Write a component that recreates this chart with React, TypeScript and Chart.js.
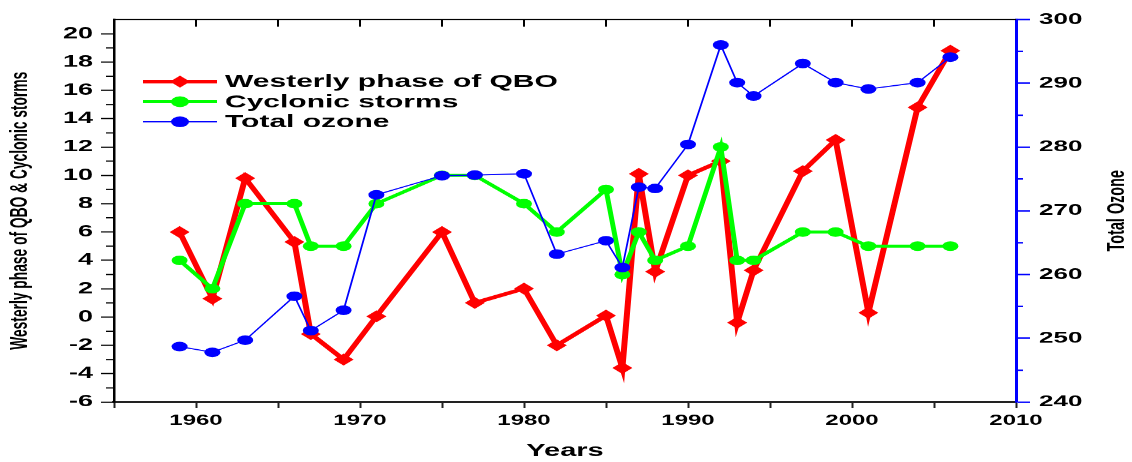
import React, { useEffect, useRef } from 'react';
import { Chart, registerables } from 'chart.js';

Chart.register(...registerables);

// ---- data ----
const YEARS = [1959, 1961, 1963, 1966, 1967, 1969, 1971, 1975, 1977, 1980, 1982, 1985, 1986, 1987, 1988, 1990, 1992, 1993, 1994, 1997, 1999, 2001, 2004, 2006];
const QBO = [6, 1.3, 9.8, 5.3, -1.2, -3, 0.05, 6, 1, 2, -2, 0.1, -3.6, 10.1, 3.2, 10, 11, -0.4, 3.3, 10.3, 12.5, 0.3, 14.8, 18.8];
const CYCLONES = [4, 2, 8, 8, 5, 5, 8, 10, 10, 8, 6, 9, 3, 6, 4, 5, 12, 4, 4, 6, 6, 5, 5, 5];
const OZONE = [248.7, 247.8, 249.7, 256.6, 251.2, 254.4, 272.5, 275.5, 275.6, 275.8, 263.2, 265.3, 261.1, 273.7, 273.5, 280.4, 296.0, 290.1, 288.0, 293.1, 290.1, 289.1, 290.1, 294.1];

const X_TICKS = [1955, 1960, 1965, 1970, 1975, 1980, 1985, 1990, 1995, 2000, 2005, 2010];
const LEFT_TICKS = [-6, -4, -2, 0, 2, 4, 6, 8, 10, 12, 14, 16, 18, 20];
const LEFT_MINOR = [-5, -3, -1, 1, 3, 5, 7, 9, 11, 13, 15, 17, 19];
const RIGHT_TICKS = [240, 250, 260, 270, 280, 290, 300];
const RIGHT_MINOR = [245, 255, 265, 275, 285, 295];

const LEGEND_LABELS = ['Westerly phase of QBO', 'Cyclonic storms', 'Total ozone'];
const X_TITLE = 'Years';
const LEFT_TITLE = 'Westerly phase of QBO & Cyclonic storms';
const RIGHT_TITLE = 'Total Ozone';

const RED = '#ff0000';
const GREEN = '#00ff00';
const BLUE = '#0000ff';
const FONT = "'Liberation Sans', Arial, Helvetica, sans-serif";

// The reference is vertically squashed; the chart is drawn taller and squeezed.
const W = 1132;
const S = 0.6;
const H = Math.round(462 / S);

const pts = (vals: number[]) => YEARS.map((x, i) => ({ x, y: vals[i] }));

const decor = {
  id: 'decor',
  afterDraw(chart: any) {
    const { ctx, chartArea: ca, scales } = chart;
    const x = scales.x, y = scales.y, y1 = scales.y1;
    ctx.save();
    // top frame line
    ctx.strokeStyle = '#000';
    ctx.lineWidth = 1.6;
    ctx.beginPath();
    ctx.moveTo(ca.left, ca.top);
    ctx.lineTo(ca.right, ca.top);
    ctx.stroke();
    // top inward ticks
    ctx.lineWidth = 2;
    ctx.beginPath();
    X_TICKS.slice(1, -1).forEach((v) => {
      const px = x.getPixelForValue(v);
      ctx.moveTo(px, ca.top);
      ctx.lineTo(px, ca.top + 12);
    });
    ctx.stroke();
    // left minor ticks
    ctx.beginPath();
    LEFT_MINOR.forEach((v) => {
      const py = y.getPixelForValue(v);
      ctx.moveTo(ca.left - 8, py);
      ctx.lineTo(ca.left, py);
    });
    ctx.stroke();
    // right minor ticks
    ctx.strokeStyle = BLUE;
    ctx.lineWidth = 2.5;
    ctx.beginPath();
    RIGHT_MINOR.forEach((v) => {
      const py = y1.getPixelForValue(v);
      ctx.moveTo(ca.right, py);
      ctx.lineTo(ca.right + 7, py);
    });
    ctx.stroke();

    // legend
    const rows = [136, 169.5, 203];
    const colors = [RED, GREEN, BLUE];
    const widths = [6, 5, 1.8];
    rows.forEach((ry, i) => {
      ctx.strokeStyle = colors[i];
      ctx.lineWidth = widths[i];
      ctx.beginPath();
      ctx.moveTo(143, ry);
      ctx.lineTo(217, ry);
      ctx.stroke();
      ctx.fillStyle = colors[i];
      ctx.beginPath();
      if (i === 0) {
        ctx.moveTo(170, ry);
        ctx.lineTo(180, ry - 10);
        ctx.lineTo(190, ry);
        ctx.lineTo(180, ry + 10);
        ctx.closePath();
      } else {
        ctx.arc(180, ry, 9, 0, Math.PI * 2);
      }
      ctx.fill();
      ctx.fillStyle = '#000';
      ctx.font = `bold 30px ${FONT}`;
      ctx.textAlign = 'left';
      ctx.textBaseline = 'middle';
      ctx.fillText(LEGEND_LABELS[i], 225, ry + 1);
    });

    // right axis title (reads bottom to top)
    ctx.translate(1117, (ca.top + ca.bottom) / 2);
    ctx.rotate(-Math.PI / 2);
    ctx.fillStyle = '#000';
    ctx.font = `bold 24px ${FONT}`;
    ctx.textAlign = 'center';
    ctx.textBaseline = 'middle';
    ctx.fillText(RIGHT_TITLE, 0, 0);
    ctx.restore();
  },
};

export default function App() {
  const ref = useRef<HTMLCanvasElement>(null);

  useEffect(() => {
    document.body.style.margin = '0';
    document.body.style.background = '#fff';
    Chart.defaults.font.family = FONT;
    const chart = new Chart(ref.current as HTMLCanvasElement, {
      type: 'line',
      data: {
        datasets: [
          {
            label: LEGEND_LABELS[0],
            data: pts(QBO),
            yAxisID: 'y',
            borderColor: RED,
            backgroundColor: RED,
            borderWidth: 6,
            pointStyle: 'rectRot',
            pointRadius: 10,
            pointBorderWidth: 0,
            pointBackgroundColor: RED,
            tension: 0,
            order: 2,
          },
          {
            label: LEGEND_LABELS[1],
            data: pts(CYCLONES),
            yAxisID: 'y',
            borderColor: GREEN,
            backgroundColor: GREEN,
            borderWidth: 5,
            pointStyle: 'circle',
            pointRadius: 8,
            pointBorderWidth: 0,
            pointBackgroundColor: GREEN,
            tension: 0,
            order: 1,
          },
          {
            label: LEGEND_LABELS[2],
            data: pts(OZONE),
            yAxisID: 'y1',
            borderColor: BLUE,
            backgroundColor: BLUE,
            borderWidth: 1.8,
            pointStyle: 'circle',
            pointRadius: 8,
            pointBorderWidth: 0,
            pointBackgroundColor: BLUE,
            tension: 0,
            order: 0,
          },
        ],
      },
      options: {
        responsive: false,
        animation: false,
        events: [],
        layout: { padding: { top: 32.5, left: 0, right: 0, bottom: 0 } },
        plugins: { legend: { display: false }, tooltip: { enabled: false }, title: { display: false } },
        scales: {
          x: {
            type: 'linear',
            position: 'bottom',
            min: 1955,
            max: 2010,
            afterBuildTicks: (s: any) => {
              s.ticks = X_TICKS.map((v) => ({ value: v }));
            },
            afterFit: (s: any) => {
              s.height = 100;
            },
            grid: { drawOnChartArea: false, drawTicks: true, tickLength: 10, tickWidth: 2, tickColor: '#222' },
            border: { display: true, color: '#222', width: 4 },
            ticks: {
              autoSkip: false,
              maxRotation: 0,
              padding: 7,
              color: '#000',
              font: { size: 24, weight: 'bold' },
              callback: (v: any) => (Number(v) % 10 === 0 ? String(v) : ''),
            },
            title: {
              display: true,
              text: X_TITLE,
              color: '#000',
              font: { size: 29, weight: 'bold' },
              padding: { top: 0, bottom: 1 },
            },
          },
          y: {
            type: 'linear',
            position: 'left',
            min: -6,
            max: 21,
            afterBuildTicks: (s: any) => {
              s.ticks = LEFT_TICKS.map((v) => ({ value: v }));
            },
            afterFit: (s: any) => {
              s.width = 114;
            },
            grid: { drawOnChartArea: false, tickLength: 13, tickWidth: 2, tickColor: '#000' },
            border: { display: true, color: '#000', width: 2.5 },
            ticks: { padding: 8, color: '#000', font: { size: 27, weight: 'bold' } },
            title: {
              display: true,
              text: LEFT_TITLE,
              color: '#000',
              font: { size: 23, weight: 'bold' },
              padding: { top: 7, bottom: 0 },
            },
          },
          y1: {
            type: 'linear',
            position: 'right',
            min: 240,
            max: 300,
            afterBuildTicks: (s: any) => {
              s.ticks = RIGHT_TICKS.map((v) => ({ value: v }));
            },
            afterFit: (s: any) => {
              s.width = 116;
            },
            grid: { drawOnChartArea: false, tickLength: 14, tickWidth: 2.5, tickColor: BLUE },
            border: { display: true, color: BLUE, width: 3 },
            ticks: { padding: 9, color: '#000', font: { size: 26, weight: 'bold' } },
          },
        },
      } as any,
      plugins: [decor],
    });
    return () => chart.destroy();
  }, []);

  return (
    <div style={{ width: W, height: 462, overflow: 'hidden', position: 'relative', background: '#fff' }}>
      <div style={{ width: W, height: H, transform: `scaleY(${S})`, transformOrigin: '0 0' }}>
        <canvas ref={ref} width={W} height={H} style={{ display: 'block' }} />
      </div>
    </div>
  );
}
